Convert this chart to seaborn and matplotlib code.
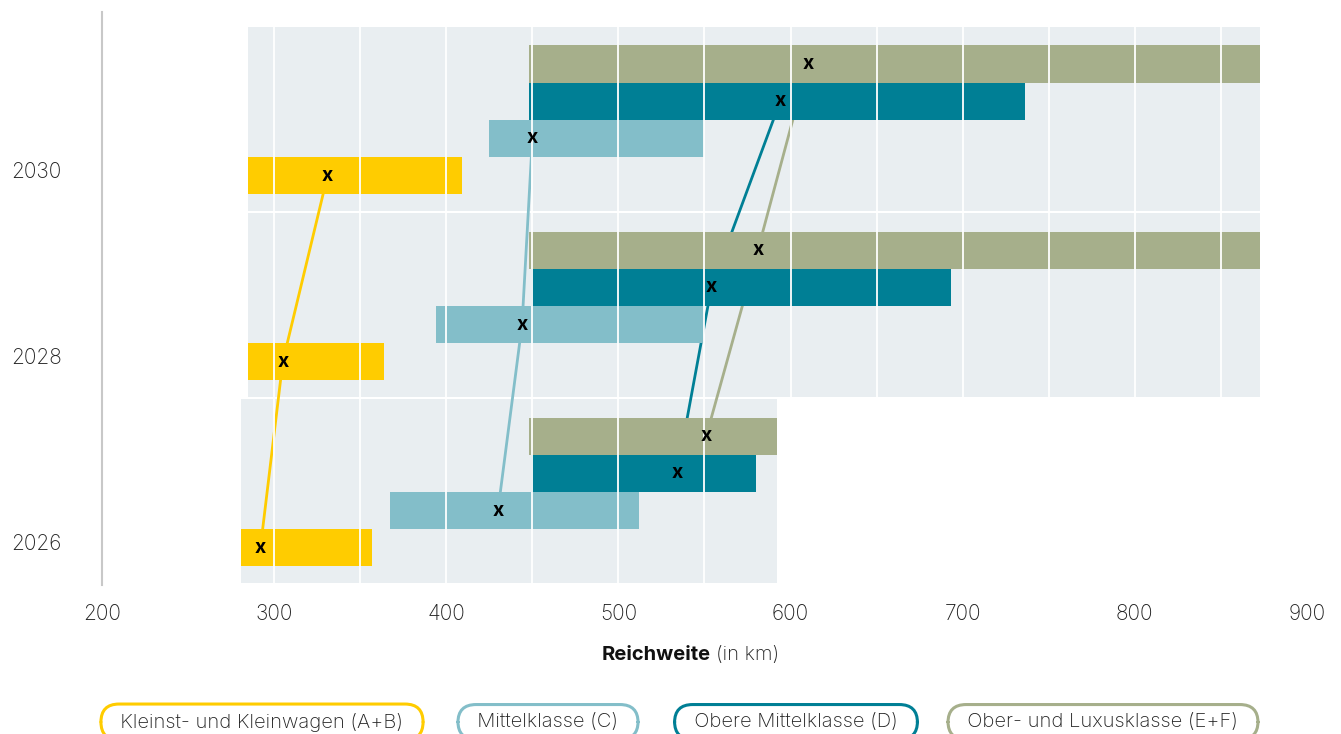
import pandas as pd
import matplotlib.pyplot as plt
import seaborn as sns

# data: range (min/max) and average range per class and year, in km
years = [2026, 2028, 2030]
classes = ["Kleinst- und Kleinwagen (A+B)", "Mittelklasse (C)",
           "Obere Mittelklasse (D)", "Ober- und Luxusklasse (E+F)"]
klein_lo = [281, 285, 285]
klein_hi = [357, 364, 409]
klein_avg = [292, 305, 331]
mittel_lo = [367, 394, 425]
mittel_hi = [512, 550, 550]
mittel_avg = [430, 444, 450]
obere_lo = [449, 449, 448]
obere_hi = [580, 693, 736]
obere_avg = [534, 554, 594]
luxus_lo = [448, 448, 448]
luxus_hi = [592, 873, 873]
luxus_avg = [551, 581, 610]

colors = ["#ffcc00", "#83bec9", "#007f95", "#a6af8b"]
bg_color = "#e9eef1"
bar_h = 0.4

lo_all = [klein_lo, mittel_lo, obere_lo, luxus_lo]
hi_all = [klein_hi, mittel_hi, obere_hi, luxus_hi]
avg_all = [klein_avg, mittel_avg, obere_avg, luxus_avg]

rows = []
for k, cls in enumerate(classes):
    for i, yr in enumerate(years):
        rows.append({"class": cls, "year": yr, "y": yr + k * bar_h,
                     "lo": lo_all[k][i], "hi": hi_all[k][i], "avg": avg_all[k][i]})
df = pd.DataFrame(rows)

sns.set_theme(style="white")
plt.rcParams["font.family"] = ["Inter", "DejaVu Sans"]

fig = plt.figure(figsize=(13.41, 7.34), dpi=100)
ax = fig.add_axes([0.0761, 0.2030, 0.8985, 0.7807])

# grey background per year group + white grid lines
for yr in years:
    g = df[df["year"] == yr]
    x0, x1 = g["lo"].min(), g["hi"].max()
    y0, y1 = yr - 0.38, yr + 1.60
    ax.fill_between([x0, x1], y0, y1, color=bg_color, lw=0, zorder=0)
    grid_x = [v for v in range(250, 900, 50) if x0 < v < x1]
    ax.vlines(grid_x, y0, y1, color="white", lw=1.3, zorder=3)

# connecting lines between the averages
sns.lineplot(data=df, x="avg", y="y", hue="class", palette=colors, sort=False,
             estimator=None, legend=False, lw=2, ax=ax, zorder=1)

# range bars
for k, cls in enumerate(classes):
    g = df[df["class"] == cls]
    ax.barh(g["y"], g["hi"] - g["lo"], left=g["lo"], height=bar_h,
            color=colors[k], lw=0, zorder=2)

# average markers
for _, r in df.iterrows():
    ax.text(r["avg"], r["y"], "x", ha="center", va="center", fontsize=14,
            fontweight="bold", color="black", zorder=4)

ax.set_xlim(200, 900)
ax.set_ylim(2025.6, 2031.76)
ax.set_xticks(range(200, 901, 100))
ax.set_yticks([y + 0.065 for y in years])
ax.set_yticklabels([str(y) for y in years])
ax.tick_params(axis="x", length=0, pad=14, labelsize=15, labelcolor="#222222")
ax.tick_params(axis="y", length=0, pad=29, labelsize=15, labelcolor="#222222")
for lab in ax.get_xticklabels() + ax.get_yticklabels():
    lab.set_fontweight("light")
ax.set_xlabel("")
ax.set_ylabel("")
for s in ["top", "right", "bottom"]:
    ax.spines[s].set_visible(False)
ax.spines["left"].set_color("#c8c8c8")
ax.spines["left"].set_linewidth(1.5)

# axis title: bold part + regular part
fig.text(711 / 1341, 1 - 655 / 734, "Reichweite", ha="right", va="center",
         fontsize=14.5, fontweight="bold", color="#111111")
fig.text(716 / 1341, 1 - 655 / 734, "(in km)", ha="left", va="center",
         fontsize=14.5, fontweight="light", color="#222222")

# legend as pill-shaped boxes
legend_x = [262, 548, 796, 1103]
for k, cls in enumerate(classes):
    fig.text(legend_x[k] / 1341, 1 - 722 / 734, "  " + cls + "  ", ha="center",
             va="center", fontsize=14.5, fontweight="light", color="#222222",
             bbox=dict(boxstyle="round,pad=0.42,rounding_size=0.9",
                       fc="white", ec=colors[k], lw=2.2))

plt.savefig("out.png", dpi=100)
